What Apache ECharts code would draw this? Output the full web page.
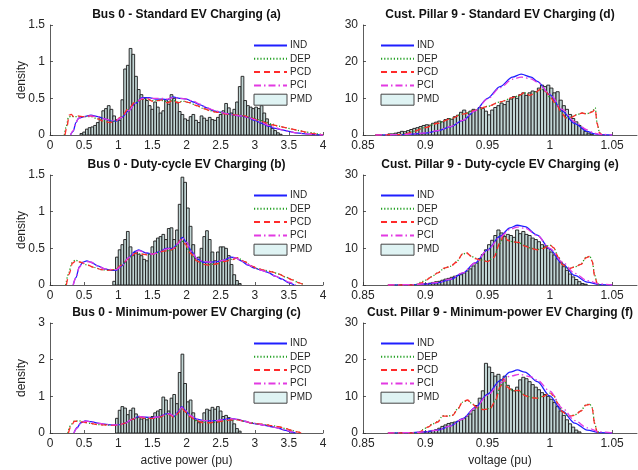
<!DOCTYPE html>
<html><head><meta charset="utf-8">
<script src="https://cdn.jsdelivr.net/npm/echarts@6.0.0/dist/echarts.min.js"></script>
<style>html,body{margin:0;padding:0;background:#fff}#c{width:638px;height:470px}</style>
</head><body><div id="c"></div>
<script>
// ---------- DATA ----------
const titles = [
  'Bus 0 - Standard EV Charging (a)',
  'Bus 0 - Duty-cycle EV Charging (b)',
  'Bus 0 - Minimum-power EV Charging (c)',
  'Cust. Pillar 9 - Standard EV Charging (d)',
  'Cust. Pillar 9 - Duty-cycle EV Charging (e)',
  'Cust. Pillar 9 - Minimum-power EV Charging (f)'
];
const seriesNames = ['IND', 'DEP', 'PCD', 'PCI', 'PMD'];
const xNameLeft = 'active power (pu)';
const xNameRight = 'voltage (pu)';
const yName = 'density';

// histogram bins (left: width 0.04, right: width 0.0025)
const binWidthLeft = 0.04;
const binWidthRight = 0.0025;
const binStartA = 0.44, binStartB = 0.92, binStartC = 0.96;
const binStartD = 0.87, binStartE = 0.895, binStartF = 0.895;

const histA = [0.02,0.04,0.08,0.10,0.11,0.13,0.17,0.24,0.33,0.36,
  0.40,0.35,0.26,0.21,0.20,0.48,0.90,0.95,1.18,1.10,
  0.80,0.62,0.55,0.50,0.47,0.40,0.35,0.45,0.38,0.30,
  0.33,0.48,0.42,0.55,0.50,0.44,0.32,0.28,0.22,0.20,
  0.25,0.28,0.20,0.17,0.26,0.23,0.20,0.24,0.21,0.20,
  0.24,0.28,0.33,0.43,0.37,0.30,0.35,0.45,0.66,0.80,
  0.47,0.40,0.38,0.36,0.38,0.36,0.40,0.30,0.22,0.14,
  0.09,0.06,0.03,0.01];
const histB = [0.05,0.38,0.48,0.55,0.62,0.73,0.52,0.40,0.45,0.42,
  0.40,0.35,0.33,0.42,0.52,0.60,0.64,0.66,0.69,0.62,
  0.77,0.78,0.62,0.75,1.10,1.47,1.40,1.05,0.80,0.55,
  0.36,0.38,0.50,0.66,0.74,0.62,0.45,0.33,0.45,0.52,
  0.52,0.50,0.40,0.28,0.14,0.06,0.02];
const histC = [0.40,0.62,0.72,0.68,0.50,0.62,0.68,0.52,0.42,0.38,
  0.40,0.36,0.42,0.45,0.55,0.60,0.64,0.98,0.90,0.60,
  0.95,1.05,0.80,1.65,2.15,1.35,0.85,0.90,0.55,0.35,
  0.28,0.30,0.55,0.65,0.62,0.70,0.65,0.72,0.60,0.45,
  0.48,0.42,0.35,0.25,0.12,0.05];
const histD = [0.3,0.3,0.5,0.7,1.0,0.9,1.2,1.5,1.8,2.0,
  2.3,2.6,2.8,2.7,3.2,3.5,3.8,3.6,4.2,4.5,
  4.3,5.0,5.4,6.2,6.8,6.0,6.5,7.0,6.7,7.5,
  7.2,6.5,5.5,6.8,7.5,8.0,8.7,8.3,9.2,9.8,
  10.5,10.0,11.0,11.5,10.8,11.5,12.0,11.8,12.8,13.6,
  13.2,13.6,12.8,11.5,11.8,9.5,8.0,7.0,5.6,4.5,
  3.6,2.6,1.8,1.0,0.5,0.2];
const histE = [0.2,0.3,0.4,0.5,0.7,0.9,1.0,1.3,1.6,1.8,
  2.1,2.4,2.6,2.8,3.3,3.8,4.4,5.2,6.0,7.2,
  8.3,9.6,11.0,12.2,13.5,15.0,14.2,13.2,13.8,13.5,
  13.0,15.0,14.0,14.6,13.8,13.5,12.8,12.4,11.8,11.0,
  10.6,10.0,9.0,8.2,7.2,6.2,5.0,4.0,3.0,2.2,
  1.5,0.9,0.4,0.2];
const histF = [0.2,0.3,0.4,0.5,0.7,0.9,1.3,1.8,2.2,2.6,
  2.8,3.0,3.2,3.6,4.0,4.6,5.2,6.2,7.5,9.5,
  11.5,19.0,18.0,16.5,15.5,16.0,14.5,15.5,13.0,12.0,
  11.5,12.5,14.5,15.2,14.8,14.0,13.2,12.5,11.8,11.0,
  10.5,10.0,9.2,8.3,7.2,6.0,4.8,3.6,2.5,1.6,
  0.8,0.3];

// density curves [x, y]
const indA = [[0.30,0],[0.34,0.05],[0.38,0.17],[0.42,0.23],[0.5,0.25],[0.6,0.27],[0.7,0.25],[0.8,0.22],[0.9,0.19],[0.97,0.19],[1.05,0.24],[1.15,0.33],[1.25,0.43],[1.35,0.51],[1.45,0.51],[1.55,0.49],[1.65,0.49],[1.72,0.48],[1.8,0.52],[1.9,0.5],[2.0,0.49],[2.1,0.45],[2.2,0.41],[2.3,0.37],[2.4,0.33],[2.5,0.31],[2.6,0.29],[2.7,0.27],[2.8,0.26],[2.9,0.24],[3.0,0.2],[3.1,0.16],[3.2,0.12],[3.3,0.09],[3.4,0.07],[3.5,0.05],[3.6,0.03],[3.7,0.02],[3.8,0.01],[3.9,0.005],[4.0,0]];
const depA = [[0.21,0],[0.24,0.12],[0.27,0.24],[0.31,0.26],[0.35,0.25],[0.4,0.25],[0.5,0.25],[0.6,0.25],[0.7,0.22],[0.8,0.19],[0.88,0.18],[0.95,0.19],[1.05,0.25],[1.15,0.35],[1.25,0.45],[1.35,0.49],[1.42,0.49],[1.5,0.47],[1.58,0.47],[1.65,0.47],[1.72,0.45],[1.8,0.47],[1.88,0.45],[1.95,0.46],[2.05,0.44],[2.15,0.4],[2.25,0.36],[2.35,0.33],[2.45,0.31],[2.55,0.3],[2.65,0.28],[2.75,0.27],[2.85,0.26],[2.95,0.24],[3.05,0.21],[3.15,0.18],[3.25,0.15],[3.35,0.12],[3.45,0.1],[3.55,0.08],[3.65,0.06],[3.75,0.04],[3.85,0.03],[3.95,0.01],[4.0,0.005]];
const pcdA = [[0.22,0],[0.25,0.12],[0.28,0.27],[0.31,0.28],[0.35,0.25],[0.4,0.26],[0.5,0.25],[0.6,0.26],[0.7,0.22],[0.8,0.18],[0.88,0.17],[0.95,0.19],[1.05,0.25],[1.15,0.36],[1.25,0.45],[1.35,0.49],[1.42,0.5],[1.5,0.46],[1.58,0.47],[1.65,0.48],[1.72,0.44],[1.8,0.47],[1.88,0.44],[1.95,0.46],[2.05,0.44],[2.15,0.4],[2.25,0.36],[2.35,0.33],[2.45,0.31],[2.55,0.29],[2.65,0.28],[2.75,0.27],[2.85,0.26],[2.95,0.23],[3.05,0.2],[3.15,0.17],[3.25,0.14],[3.35,0.12],[3.45,0.1],[3.55,0.08],[3.65,0.06],[3.75,0.04],[3.85,0.02],[3.95,0.01],[4.0,0.005]];
const pciA = [[0.30,0],[0.34,0.06],[0.38,0.17],[0.42,0.23],[0.5,0.25],[0.6,0.26],[0.7,0.25],[0.8,0.22],[0.9,0.2],[0.97,0.2],[1.05,0.24],[1.15,0.33],[1.25,0.43],[1.35,0.5],[1.45,0.5],[1.55,0.5],[1.65,0.5],[1.72,0.49],[1.8,0.51],[1.9,0.5],[2.0,0.49],[2.1,0.46],[2.2,0.42],[2.3,0.37],[2.4,0.34],[2.5,0.31],[2.6,0.29],[2.7,0.27],[2.8,0.26],[2.9,0.24],[3.0,0.21],[3.1,0.17],[3.2,0.13],[3.3,0.1],[3.4,0.07],[3.5,0.05],[3.6,0.03],[3.7,0.02],[3.8,0.01],[3.9,0.005],[4.0,0]];

const indB = [[0.34,0],[0.38,0.1],[0.43,0.25],[0.48,0.31],[0.54,0.33],[0.6,0.31],[0.7,0.26],[0.8,0.22],[0.9,0.2],[0.97,0.2],[1.05,0.26],[1.15,0.37],[1.25,0.46],[1.3,0.48],[1.4,0.44],[1.5,0.42],[1.6,0.45],[1.7,0.5],[1.8,0.5],[1.87,0.56],[1.94,0.65],[2.0,0.58],[2.08,0.45],[2.15,0.36],[2.25,0.31],[2.35,0.31],[2.45,0.32],[2.55,0.34],[2.65,0.38],[2.72,0.37],[2.8,0.33],[2.9,0.27],[3.0,0.23],[3.1,0.2],[3.2,0.17],[3.3,0.12],[3.4,0.08],[3.5,0.03],[3.58,0]];
const depB = [[0.23,0],[0.27,0.15],[0.32,0.3],[0.37,0.34],[0.45,0.31],[0.55,0.27],[0.65,0.24],[0.75,0.21],[0.85,0.2],[0.95,0.21],[1.05,0.27],[1.15,0.36],[1.25,0.43],[1.35,0.42],[1.45,0.42],[1.55,0.43],[1.65,0.46],[1.75,0.47],[1.82,0.5],[1.92,0.61],[1.98,0.56],[2.05,0.44],[2.15,0.33],[2.25,0.28],[2.35,0.28],[2.45,0.29],[2.55,0.32],[2.65,0.35],[2.75,0.37],[2.85,0.32],[2.95,0.26],[3.05,0.22],[3.15,0.2],[3.25,0.18],[3.35,0.15],[3.45,0.11],[3.55,0.07],[3.65,0.03],[3.73,0]];
const pcdB = [[0.24,0],[0.28,0.15],[0.33,0.3],[0.38,0.33],[0.45,0.31],[0.55,0.27],[0.65,0.24],[0.75,0.21],[0.85,0.2],[0.95,0.21],[1.05,0.27],[1.15,0.36],[1.25,0.43],[1.35,0.42],[1.45,0.41],[1.55,0.43],[1.65,0.46],[1.75,0.47],[1.82,0.5],[1.92,0.62],[1.98,0.56],[2.05,0.44],[2.15,0.33],[2.25,0.28],[2.35,0.27],[2.45,0.29],[2.55,0.32],[2.65,0.34],[2.75,0.37],[2.85,0.32],[2.95,0.26],[3.05,0.22],[3.15,0.2],[3.25,0.18],[3.35,0.15],[3.45,0.11],[3.55,0.07],[3.65,0.03],[3.72,0]];
const pciB = [[0.34,0],[0.38,0.1],[0.43,0.24],[0.48,0.3],[0.54,0.32],[0.6,0.31],[0.7,0.26],[0.8,0.22],[0.9,0.21],[0.97,0.21],[1.05,0.26],[1.15,0.37],[1.25,0.45],[1.3,0.47],[1.4,0.44],[1.5,0.42],[1.6,0.45],[1.7,0.49],[1.8,0.5],[1.87,0.56],[1.94,0.64],[2.0,0.58],[2.08,0.45],[2.15,0.36],[2.25,0.32],[2.35,0.31],[2.45,0.32],[2.55,0.34],[2.65,0.37],[2.72,0.37],[2.8,0.33],[2.9,0.28],[3.0,0.23],[3.1,0.2],[3.2,0.17],[3.3,0.12],[3.4,0.08],[3.5,0.04],[3.6,0]];

const indC = [[0.35,0],[0.4,0.15],[0.45,0.28],[0.52,0.33],[0.6,0.31],[0.7,0.27],[0.8,0.24],[0.9,0.22],[1.0,0.22],[1.1,0.27],[1.2,0.37],[1.3,0.45],[1.4,0.43],[1.5,0.42],[1.6,0.44],[1.7,0.52],[1.75,0.53],[1.82,0.45],[1.88,0.58],[1.93,0.72],[1.98,0.62],[2.05,0.48],[2.15,0.38],[2.25,0.34],[2.35,0.33],[2.45,0.34],[2.55,0.37],[2.65,0.4],[2.75,0.37],[2.85,0.32],[2.95,0.27],[3.05,0.24],[3.15,0.21],[3.25,0.17],[3.35,0.13],[3.45,0.07],[3.55,0.02],[3.6,0]];
const depC = [[0.26,0],[0.3,0.2],[0.35,0.32],[0.42,0.33],[0.5,0.3],[0.6,0.26],[0.7,0.23],[0.8,0.22],[0.9,0.21],[1.0,0.21],[1.1,0.27],[1.2,0.37],[1.3,0.44],[1.4,0.41],[1.5,0.4],[1.6,0.43],[1.7,0.5],[1.75,0.5],[1.82,0.43],[1.88,0.55],[1.93,0.67],[1.98,0.58],[2.05,0.45],[2.15,0.33],[2.25,0.29],[2.35,0.28],[2.45,0.3],[2.55,0.33],[2.65,0.36],[2.75,0.36],[2.85,0.32],[2.95,0.28],[3.05,0.25],[3.15,0.23],[3.25,0.2],[3.35,0.17],[3.45,0.12],[3.55,0.07],[3.62,0.03],[3.69,0]];
const pcdC = [[0.27,0],[0.31,0.2],[0.36,0.32],[0.42,0.32],[0.5,0.29],[0.6,0.26],[0.7,0.23],[0.8,0.22],[0.9,0.21],[1.0,0.21],[1.1,0.27],[1.2,0.37],[1.3,0.44],[1.4,0.4],[1.5,0.4],[1.6,0.43],[1.7,0.5],[1.75,0.5],[1.82,0.42],[1.88,0.55],[1.93,0.68],[1.98,0.58],[2.05,0.45],[2.15,0.33],[2.25,0.28],[2.35,0.28],[2.45,0.3],[2.55,0.33],[2.65,0.36],[2.75,0.36],[2.85,0.32],[2.95,0.27],[3.05,0.25],[3.15,0.23],[3.25,0.2],[3.35,0.17],[3.45,0.12],[3.55,0.07],[3.62,0.03],[3.68,0]];
const pciC = [[0.35,0],[0.4,0.14],[0.45,0.27],[0.52,0.32],[0.6,0.31],[0.7,0.27],[0.8,0.24],[0.9,0.22],[1.0,0.22],[1.1,0.27],[1.2,0.37],[1.3,0.45],[1.4,0.43],[1.5,0.42],[1.6,0.44],[1.7,0.51],[1.75,0.52],[1.82,0.46],[1.88,0.58],[1.93,0.7],[1.98,0.62],[2.05,0.48],[2.15,0.38],[2.25,0.34],[2.35,0.33],[2.45,0.34],[2.55,0.37],[2.65,0.39],[2.75,0.37],[2.85,0.32],[2.95,0.28],[3.05,0.24],[3.15,0.21],[3.25,0.17],[3.35,0.13],[3.45,0.08],[3.55,0.03],[3.62,0]];

const indD = [[0.86,0],[0.88,0.1],[0.89,0.25],[0.9,0.5],[0.91,1.1],[0.92,2.2],[0.93,3.9],[0.94,6.6],[0.95,10],[0.96,13.2],[0.97,15.8],[0.977,16.6],[0.985,15.8],[0.99,14.6],[1.0,11],[1.01,6.5],[1.02,3.1],[1.03,1.0],[1.035,0.4],[1.04,0.1],[1.05,0]];
const depD = [[0.86,0],[0.88,0.1],[0.885,0.5],[0.89,1.0],[0.9,2.1],[0.91,3.3],[0.92,4.4],[0.93,5.7],[0.94,6.7],[0.95,7.8],[0.96,9.0],[0.97,10.1],[0.975,10.7],[0.98,11.5],[0.984,10.9],[0.988,11.5],[0.993,12.5],[0.997,11.8],[1.0,10.3],[1.005,8.6],[1.01,5.9],[1.013,4.7],[1.017,4.9],[1.022,5.6],[1.026,6.0],[1.03,5.8],[1.034,6.4],[1.0365,7.4],[1.038,3.2],[1.04,0.6],[1.042,0]];
const pcdD = [[0.86,0],[0.88,0.1],[0.885,0.4],[0.89,0.9],[0.9,2.0],[0.91,3.2],[0.92,4.4],[0.93,5.7],[0.94,6.7],[0.95,7.8],[0.96,9.0],[0.97,10.2],[0.975,10.8],[0.98,11.6],[0.984,10.8],[0.988,11.5],[0.993,12.6],[0.997,11.8],[1.0,10.4],[1.005,8.5],[1.01,5.8],[1.013,4.6],[1.017,4.8],[1.022,5.6],[1.026,6.0],[1.03,5.7],[1.034,6.3],[1.0365,7.0],[1.038,3.0],[1.04,0.5],[1.042,0]];
const pciD = [[0.86,0],[0.88,0.1],[0.89,0.3],[0.9,0.6],[0.91,1.2],[0.92,2.3],[0.93,4.0],[0.94,6.6],[0.95,9.8],[0.96,12.9],[0.97,15.2],[0.977,15.8],[0.985,15.3],[0.99,14.4],[1.0,11.2],[1.01,7.0],[1.02,3.6],[1.03,1.4],[1.035,0.6],[1.04,0.2],[1.05,0]];

const indE = [[0.87,0],[0.89,0.1],[0.9,0.25],[0.91,0.6],[0.92,1.5],[0.93,3.2],[0.94,6.0],[0.95,9.6],[0.96,13.3],[0.968,15.6],[0.974,16.3],[0.98,15.9],[0.99,13.6],[1.0,9.8],[1.01,5.8],[1.02,2.6],[1.03,0.8],[1.04,0.1],[1.05,0]];
const depE = [[0.87,0],[0.892,0],[0.896,0.7],[0.9,1.3],[0.905,2.3],[0.91,3.3],[0.915,4.5],[0.92,5.1],[0.925,6.3],[0.93,8.4],[0.933,8.7],[0.937,7.9],[0.94,7.3],[0.945,6.8],[0.95,6.5],[0.955,7.6],[0.96,11.3],[0.963,13.6],[0.966,12.3],[0.97,11.8],[0.975,11.5],[0.98,10.7],[0.985,10.0],[0.99,9.7],[0.995,10.1],[1.0,10.9],[1.003,10.2],[1.007,7.6],[1.01,5.7],[1.015,4.5],[1.02,4.9],[1.025,5.7],[1.029,7.5],[1.032,7.9],[1.034,6.6],[1.036,2.7],[1.038,0.5],[1.04,0]];
const pcdE = [[0.87,0],[0.893,0],[0.897,0.6],[0.9,1.2],[0.905,2.2],[0.91,3.3],[0.915,4.6],[0.92,5.0],[0.925,6.2],[0.93,8.5],[0.933,8.8],[0.937,7.8],[0.94,7.2],[0.945,6.8],[0.95,6.4],[0.955,7.5],[0.96,11.5],[0.963,13.8],[0.966,12.2],[0.97,11.8],[0.975,11.6],[0.98,10.6],[0.985,10.0],[0.99,9.6],[0.995,10.0],[1.0,11.0],[1.003,10.2],[1.007,7.5],[1.01,5.6],[1.015,4.4],[1.02,4.9],[1.025,5.6],[1.029,7.4],[1.032,7.8],[1.034,6.5],[1.036,2.5],[1.038,0.4],[1.04,0]];
const pciE = [[0.87,0],[0.89,0.1],[0.9,0.3],[0.91,0.7],[0.92,1.6],[0.93,3.3],[0.94,6.0],[0.95,9.5],[0.96,13.0],[0.968,15.2],[0.974,15.8],[0.98,15.5],[0.99,13.5],[1.0,10.0],[1.01,6.3],[1.02,3.2],[1.03,1.2],[1.04,0.3],[1.05,0]];

const indF = [[0.87,0],[0.89,0.1],[0.9,0.3],[0.91,0.8],[0.92,1.9],[0.93,3.9],[0.94,6.9],[0.95,10.6],[0.96,14.3],[0.968,16.6],[0.974,17.2],[0.98,16.6],[0.99,14.0],[1.0,10.1],[1.01,6.0],[1.02,2.7],[1.03,0.8],[1.04,0.1],[1.05,0]];
const depF = [[0.87,0],[0.894,0],[0.898,0.9],[0.902,1.7],[0.906,2.5],[0.91,3.1],[0.914,4.7],[0.918,4.6],[0.922,4.9],[0.926,6.6],[0.93,8.4],[0.934,8.9],[0.938,7.9],[0.942,6.9],[0.947,6.5],[0.952,6.7],[0.956,8.7],[0.96,12.3],[0.963,14.6],[0.966,12.6],[0.97,11.6],[0.975,11.5],[0.98,10.3],[0.985,9.7],[0.99,9.5],[0.995,10.1],[1.0,10.9],[1.003,10.2],[1.007,7.9],[1.01,5.9],[1.015,4.6],[1.02,4.9],[1.025,6.1],[1.029,7.7],[1.032,7.9],[1.034,6.9],[1.036,2.7],[1.038,0.4],[1.04,0]];
const pcdF = [[0.87,0],[0.895,0],[0.898,0.8],[0.902,1.6],[0.906,2.4],[0.91,3.0],[0.914,4.6],[0.918,4.6],[0.922,4.8],[0.926,6.5],[0.93,8.5],[0.934,9.0],[0.938,7.8],[0.942,6.8],[0.947,6.4],[0.952,6.6],[0.956,8.5],[0.96,12.5],[0.963,14.8],[0.966,12.5],[0.97,11.5],[0.975,11.6],[0.98,10.2],[0.985,9.6],[0.99,9.5],[0.995,10.0],[1.0,11.0],[1.003,10.2],[1.007,7.8],[1.01,5.8],[1.015,4.6],[1.02,4.8],[1.025,6.0],[1.029,7.6],[1.032,7.8],[1.034,6.8],[1.036,2.5],[1.038,0.3],[1.04,0]];
const pciF = [[0.87,0],[0.89,0.1],[0.9,0.3],[0.91,0.8],[0.92,1.9],[0.93,3.8],[0.94,6.8],[0.95,10.3],[0.96,13.6],[0.968,15.5],[0.976,16.0],[0.985,15.3],[0.99,14.4],[1.0,11.4],[1.01,6.8],[1.02,3.4],[1.03,1.4],[1.04,0.3],[1.05,0.05]];

// axis ranges / ticks
const xLeft = {min: 0, max: 4, interval: 0.5};
const xRight = {min: 0.85, max: 1.07, interval: 0.05};
const yRanges = [
  {max: 1.5, interval: 0.5}, {max: 1.5, interval: 0.5}, {max: 3, interval: 1},
  {max: 30, interval: 10}, {max: 30, interval: 10}, {max: 30, interval: 10}
];

// ---------- LAYOUT / STYLE ----------
const colLeft = [50, 363], colWidth = [273, 274];
const rowTop = [25, 175, 323], plotH = 110;
const legendLeft = [253, 380];
const txt = '#262626';
const FONT = 'Liberation Sans, Arial, Helvetica, sans-serif';
const lineStyles = {
  IND: {color: '#1f1fff', width: 1.3, type: 'solid'},
  DEP: {color: '#22a022', width: 1.3, type: [1.2, 2]},
  PCD: {color: '#ff2a2a', width: 1.3, type: [6, 4]},
  PCI: {color: '#e23ae2', width: 1.3, type: [7, 3, 1.5, 3]}
};
const barFill = '#c2d6d5', barEdge = '#1a1a1a';

const panels = [
  {hist: histA, start: binStartA, bw: binWidthLeft, lines: [indA, depA, pcdA, pciA]},
  {hist: histB, start: binStartB, bw: binWidthLeft, lines: [indB, depB, pcdB, pciB]},
  {hist: histC, start: binStartC, bw: binWidthLeft, lines: [indC, depC, pcdC, pciC]},
  {hist: histD, start: binStartD, bw: binWidthRight, lines: [indD, depD, pcdD, pciD]},
  {hist: histE, start: binStartE, bw: binWidthRight, lines: [indE, depE, pcdE, pciE]},
  {hist: histF, start: binStartF, bw: binWidthRight, lines: [indF, depF, pcdF, pciF]}
];

const grids = [], xAxes = [], yAxes = [], series = [], legends = [], graphics = [];
panels.forEach((p, i) => {
  const col = i < 3 ? 0 : 1, row = i % 3;
  grids.push({left: colLeft[col], top: rowTop[row], width: colWidth[col], height: plotH, containLabel: false});
  const xr = col === 0 ? xLeft : xRight;
  const axLine = {show: true, onZero: false, lineStyle: {color: '#333', width: 0.8}};
  xAxes.push({
    type: 'value', gridIndex: i, min: xr.min, max: xr.max, interval: xr.interval,
    axisLine: axLine, axisTick: {show: true, inside: true, length: 3, lineStyle: {color: '#333', width: 0.8}},
    splitLine: {show: false},
    axisLabel: {fontSize: 12, color: txt, margin: 5, fontFamily: FONT, showMaxLabel: col === 0 ? true : false},
    name: row === 2 ? (col === 0 ? xNameLeft : xNameRight) : '',
    nameLocation: 'middle', nameGap: 22, nameMoveOverlap: false,
    nameTextStyle: {fontSize: 12, color: txt, fontFamily: FONT}
  });
  yAxes.push({
    type: 'value', gridIndex: i, min: 0, max: yRanges[i].max, interval: yRanges[i].interval,
    axisLine: axLine, axisTick: {show: true, inside: true, length: 3, lineStyle: {color: '#333', width: 0.8}},
    splitLine: {show: false},
    axisLabel: {fontSize: 12, color: txt, margin: 5, fontFamily: FONT},
    name: col === 0 ? yName : '', nameLocation: 'middle', nameGap: 22, nameRotate: 90,
    nameMoveOverlap: false,
    nameTextStyle: {fontSize: 12, color: txt, fontFamily: FONT}
  });
  const bw = p.bw;
  series.push({
    type: 'custom', name: 'PMD', xAxisIndex: i, yAxisIndex: i, z: 1, clip: true,
    itemStyle: {color: barFill, borderColor: barEdge},
    encode: {x: 0, y: 1},
    data: p.hist.map((v, k) => [p.start + bw * (k + 0.5), v]),
    renderItem: function (params, api) {
      const c = api.value(0), v = api.value(1);
      const a = api.coord([c - bw / 2, v]);
      const b = api.coord([c + bw / 2, 0]);
      return {type: 'rect', shape: {x: a[0], y: a[1], width: b[0] - a[0], height: b[1] - a[1]},
        style: {fill: barFill, stroke: barEdge, lineWidth: 0.9}};
    }
  });
  ['IND', 'DEP', 'PCD', 'PCI'].forEach((nm, j) => {
    series.push({
      type: 'line', name: nm, xAxisIndex: i, yAxisIndex: i, z: 3 + j,
      data: p.lines[j], symbol: 'none', showSymbol: false, smooth: 0.3, smoothMonotone: 'x',
      lineStyle: lineStyles[nm], itemStyle: {color: lineStyles[nm].color}
    });
  });
  legends.push({
    orient: 'vertical', left: legendLeft[col], top: rowTop[row] + 15.5, padding: 0,
    itemWidth: 33, itemHeight: 11, itemGap: 3.3,
    selectedMode: false, textStyle: {fontSize: 10, color: txt, fontFamily: FONT, padding: [0, 0, 0, -2]},
    itemStyle: {opacity: 0},
    data: [
      {name: 'IND'}, {name: 'DEP'}, {name: 'PCD'}, {name: 'PCI'},
      {name: 'PMD', icon: 'rect', itemStyle: {opacity: 1, color: '#dff3f3', borderColor: '#444', borderWidth: 1}}
    ]
  });
  graphics.push({
    type: 'text', x: colLeft[col] + colWidth[col] / 2, y: rowTop[row] - 10,
    style: {text: titles[i], textAlign: 'center', textVerticalAlign: 'middle',
      font: 'bold 12px ' + FONT, fill: '#111'}
  });
});

const chart = echarts.init(document.getElementById('c'), null, {renderer: 'canvas'});
chart.setOption({
  animation: false,
  backgroundColor: '#fff',
  grid: grids, xAxis: xAxes, yAxis: yAxes, series: series, legend: legends,
  graphic: graphics
});
</script></body></html>
